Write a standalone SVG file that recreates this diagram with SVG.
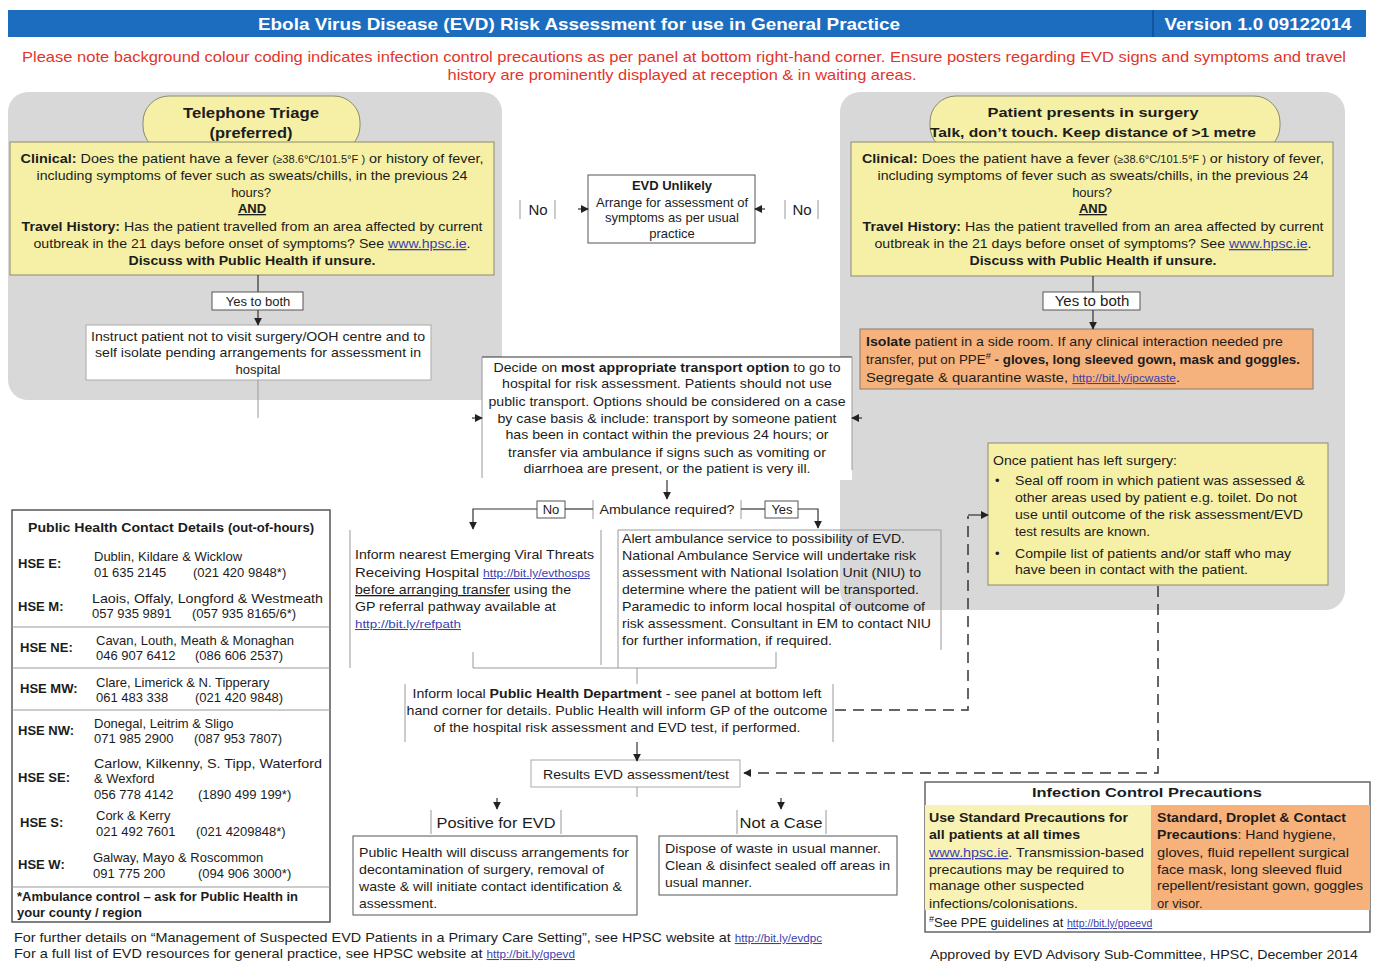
<svg xmlns="http://www.w3.org/2000/svg" width="1377" height="961" viewBox="0 0 1377 961">
<defs>
<style>
text{font-family:"Liberation Sans",Arial,Helvetica,sans-serif;font-size:13px;fill:#1c1c1c}
.b{font-weight:bold}
.c{text-anchor:middle}
.u{text-decoration:underline}
.lk{fill:#3a3fb0;text-decoration:underline}
.sl{font-size:10.5px}
.tmp{font-size:10px}
.red{fill:#e2352b;font-size:15px}
.hd{fill:#ffffff;font-size:17px;font-weight:bold}
.gray{fill:#d8d8d8}
.yel{fill:#f5f0a6;stroke:#8a8a70;stroke-width:1}
.org{fill:#f6b27c;stroke:#8a7a6a;stroke-width:1}
.wb{fill:#ffffff;stroke:#555;stroke-width:1}
.wl{fill:#ffffff;stroke:#aaa;stroke-width:1}
.ln{stroke:#333;stroke-width:1.2;fill:none}
.lg{stroke:#999;stroke-width:1;fill:none}
.ds{stroke:#333;stroke-width:1.5;stroke-dasharray:11 7;fill:none}
.big{font-size:15px}
</style>
<marker id="ah" viewBox="0 0 10 10" refX="9" refY="5" markerWidth="8" markerHeight="8" markerUnits="userSpaceOnUse" orient="auto"><path d="M0,0 L10,5 L0,10 z" fill="#222"/></marker>
</defs>
<rect x="0" y="0" width="1377" height="961" fill="#ffffff"/>

<g id="header">
<rect x="8" y="10" width="1358" height="27" fill="#1c6dc0"/>
<line x1="1153" y1="10" x2="1153" y2="37" stroke="#0d4f94" stroke-width="1.5"/>
<text class="hd c" x="579" y="30" textLength="642" lengthAdjust="spacingAndGlyphs">Ebola Virus Disease (EVD) Risk Assessment for use in General Practice</text>
<text class="hd c" x="1258" y="30" textLength="187" lengthAdjust="spacingAndGlyphs">Version 1.0 09122014</text>
<text class="red c" x="684" y="62" textLength="1324" lengthAdjust="spacingAndGlyphs">Please note background colour coding indicates infection control precautions as per panel at bottom right-hand corner. Ensure posters regarding EVD signs and symptoms and travel</text>
<text class="red c" x="682" y="80" textLength="469" lengthAdjust="spacingAndGlyphs">history are prominently displayed at reception &amp; in waiting areas.</text>
</g>

<g id="panels">
<rect class="gray" x="8" y="92" width="494" height="308" rx="20"/>
<rect class="gray" x="840" y="92" width="505" height="518" rx="20"/>
</g>

<g id="triage-pill">
<rect class="yel" x="143" y="96" width="217" height="56" rx="26"/>
<text class="b c big" x="251" y="118" font-size="16" textLength="136" lengthAdjust="spacingAndGlyphs">Telephone Triage</text>
<text class="b c big" x="251" y="138" font-size="16" textLength="83" lengthAdjust="spacingAndGlyphs">(preferred)</text>
</g>
<g id="surgery-pill">
<rect class="yel" x="930" y="96" width="350" height="56" rx="26"/>
<text class="b c" x="1093" y="117" font-size="16" textLength="211" lengthAdjust="spacingAndGlyphs">Patient presents in surgery</text>
<text class="b c" x="1093" y="137" font-size="16" textLength="326" lengthAdjust="spacingAndGlyphs">Talk, don’t touch. Keep distance of &gt;1 metre</text>
</g>

<g id="triage-questions">
<rect class="yel" x="10" y="142" width="484" height="133"/>
<text class="c" x="252" y="163" textLength="463" lengthAdjust="spacingAndGlyphs"><tspan class="b">Clinical:</tspan> Does the patient have a fever <tspan class="tmp">(≥38.6°C/101.5°F )</tspan> or history of fever,</text>
<text class="c" x="252" y="180" textLength="431" lengthAdjust="spacingAndGlyphs">including symptoms of fever such as sweats/chills, in the previous 24</text>
<text class="c" x="251" y="197">hours?</text>
<text class="c b u" x="252" y="213">AND</text>
<text class="c" x="252" y="231" textLength="461" lengthAdjust="spacingAndGlyphs"><tspan class="b">Travel History:</tspan> Has the patient travelled from an area affected by current</text>
<text class="c" x="252" y="248" textLength="437" lengthAdjust="spacingAndGlyphs">outbreak in the 21 days before onset of symptoms? See <tspan class="lk">www.hpsc.ie</tspan>.</text>
<text class="c b" x="252" y="265" textLength="247" lengthAdjust="spacingAndGlyphs">Discuss with Public Health if unsure.</text>
</g>

<g id="surgery-questions">
<rect class="yel" x="851" y="142" width="482" height="134"/>
<text class="c" x="1093" y="163" textLength="462" lengthAdjust="spacingAndGlyphs"><tspan class="b">Clinical:</tspan> Does the patient have a fever <tspan class="tmp">(≥38.6°C/101.5°F )</tspan> or history of fever,</text>
<text class="c" x="1093" y="180" textLength="431" lengthAdjust="spacingAndGlyphs">including symptoms of fever such as sweats/chills, in the previous 24</text>
<text class="c" x="1092" y="197">hours?</text>
<text class="c b u" x="1093" y="213">AND</text>
<text class="c" x="1093" y="231" textLength="461" lengthAdjust="spacingAndGlyphs"><tspan class="b">Travel History:</tspan> Has the patient travelled from an area affected by current</text>
<text class="c" x="1093" y="248" textLength="437" lengthAdjust="spacingAndGlyphs">outbreak in the 21 days before onset of symptoms? See <tspan class="lk">www.hpsc.ie</tspan>.</text>
<text class="c b" x="1093" y="265" textLength="247" lengthAdjust="spacingAndGlyphs">Discuss with Public Health if unsure.</text>
</g>

<g id="evd-unlikely">
<rect class="wb" x="588" y="175" width="167" height="68"/>
<text class="c b" x="672" y="190" font-size="12.5">EVD Unlikely</text>
<text class="c" x="672" y="207" font-size="11.5" textLength="152" lengthAdjust="spacingAndGlyphs">Arrange for assessment of</text>
<text class="c" x="672" y="222" font-size="11.5" textLength="134" lengthAdjust="spacingAndGlyphs">symptoms as per usual</text>
<text class="c" x="672" y="238" font-size="11.5">practice</text>
</g>

<g id="instruct">
<rect class="wl" x="86" y="325" width="345" height="55"/>
<text class="c" x="258" y="341" textLength="334" lengthAdjust="spacingAndGlyphs">Instruct patient not to visit surgery/OOH centre and to</text>
<text class="c" x="258" y="357" textLength="326" lengthAdjust="spacingAndGlyphs">self isolate pending arrangements for assessment in</text>
<text class="c" x="258" y="374">hospital</text>
</g>

<g id="isolate">
<rect class="org" x="860" y="329" width="453" height="60"/>
<text x="866" y="346" textLength="417" lengthAdjust="spacingAndGlyphs"><tspan class="b">Isolate</tspan> patient in a side room. If any clinical interaction needed pre</text>
<text x="866" y="364" textLength="434" lengthAdjust="spacingAndGlyphs">transfer, put on PPE<tspan font-size="9" dy="-5">#</tspan><tspan dy="5" class="b"> - gloves, long sleeved gown, mask and goggles.</tspan></text>
<text x="866" y="382" textLength="314" lengthAdjust="spacingAndGlyphs">Segregate &amp; quarantine waste, <tspan class="lk sl">http://bit.ly/ipcwaste</tspan>.</text>
</g>

<g id="transport">
<rect x="482" y="357" width="370" height="123" fill="#ffffff"/>
<line class="ln" x1="482" y1="357" x2="852" y2="357"/>
<line class="lg" x1="482" y1="357" x2="482" y2="478"/>
<line class="lg" x1="852" y1="357" x2="852" y2="470"/>
<text class="c" x="667" y="372" textLength="347" lengthAdjust="spacingAndGlyphs">Decide on <tspan class="b">most appropriate transport option</tspan> to go to</text>
<text class="c" x="667" y="388" textLength="330" lengthAdjust="spacingAndGlyphs">hospital for risk assessment. Patients should not use</text>
<text class="c" x="667" y="406" textLength="357" lengthAdjust="spacingAndGlyphs">public transport. Options should be considered on a case</text>
<text class="c" x="667" y="423" textLength="339" lengthAdjust="spacingAndGlyphs">by case basis &amp; include: transport by someone patient</text>
<text class="c" x="667" y="439" textLength="323" lengthAdjust="spacingAndGlyphs">has been in contact within the previous 24 hours; or</text>
<text class="c" x="667" y="457" textLength="318" lengthAdjust="spacingAndGlyphs">transfer via ambulance if signs such as vomiting or</text>
<text class="c" x="667" y="473" textLength="287" lengthAdjust="spacingAndGlyphs">diarrhoea are present, or the patient is very ill.</text>
</g>

<g id="once-left">
<rect class="yel" x="988" y="443" width="340" height="142"/>
<text x="993" y="465" textLength="184" lengthAdjust="spacingAndGlyphs">Once patient has left surgery:</text>
<text x="995" y="485">•</text>
<text x="1015" y="485" textLength="290" lengthAdjust="spacingAndGlyphs">Seal off room in which patient was assessed &amp;</text>
<text x="1015" y="502" textLength="282" lengthAdjust="spacingAndGlyphs">other areas used by patient e.g. toilet. Do not</text>
<text x="1015" y="519" textLength="288" lengthAdjust="spacingAndGlyphs">use until outcome of the risk assessment/EVD</text>
<text x="1015" y="536" textLength="135" lengthAdjust="spacingAndGlyphs">test results are known.</text>
<text x="995" y="558">•</text>
<text x="1015" y="558" textLength="276" lengthAdjust="spacingAndGlyphs">Compile list of patients and/or staff who may</text>
<text x="1015" y="574" textLength="233" lengthAdjust="spacingAndGlyphs">have been in contact with the patient.</text>
</g>

<g id="ambulance">
<text class="c" x="667" y="514" textLength="135" lengthAdjust="spacingAndGlyphs">Ambulance required?</text>
</g>

<g id="inform-nearest">
<text x="355" y="559" textLength="239" lengthAdjust="spacingAndGlyphs">Inform nearest Emerging Viral Threats</text>
<text x="355" y="577" textLength="235" lengthAdjust="spacingAndGlyphs">Receiving Hospital <tspan class="lk sl">http://bit.ly/evthosps</tspan></text>
<text x="355" y="594" textLength="216" lengthAdjust="spacingAndGlyphs"><tspan class="u">before arranging transfer</tspan> using the</text>
<text x="355" y="611" textLength="201" lengthAdjust="spacingAndGlyphs">GP referral pathway available at</text>
<text x="355" y="628" class="lk sl" textLength="106" lengthAdjust="spacingAndGlyphs">http://bit.ly/refpath</text>
</g>

<g id="alert">
<text x="622" y="543" textLength="283" lengthAdjust="spacingAndGlyphs">Alert ambulance service to possibility of EVD.</text>
<text x="622" y="560" textLength="294" lengthAdjust="spacingAndGlyphs">National Ambulance Service will undertake risk</text>
<text x="622" y="577" textLength="299" lengthAdjust="spacingAndGlyphs">assessment with National Isolation Unit (NIU) to</text>
<text x="622" y="594" textLength="297" lengthAdjust="spacingAndGlyphs">determine where the patient will be transported.</text>
<text x="622" y="611" textLength="303" lengthAdjust="spacingAndGlyphs">Paramedic to inform local hospital of outcome of</text>
<text x="622" y="628" textLength="309" lengthAdjust="spacingAndGlyphs">risk assessment. Consultant in EM to contact NIU</text>
<text x="622" y="645" textLength="210" lengthAdjust="spacingAndGlyphs">for further information, if required.</text>
</g>

<g id="inform-local">
<text class="c" x="617" y="698" textLength="409" lengthAdjust="spacingAndGlyphs">Inform local <tspan class="b">Public Health Department</tspan> - see panel at bottom left</text>
<text class="c" x="617" y="715" textLength="421" lengthAdjust="spacingAndGlyphs">hand corner for details. Public Health will inform GP of the outcome</text>
<text class="c" x="617" y="732" textLength="367" lengthAdjust="spacingAndGlyphs">of the hospital risk assessment and EVD test, if performed.</text>
</g>

<g id="results">
<rect class="wl" x="531" y="760" width="209" height="27"/>
<text class="c" x="636" y="779" textLength="186" lengthAdjust="spacingAndGlyphs">Results EVD assessment/test</text>
</g>

<g id="positive">
<text class="c big" x="496" y="828" textLength="119" lengthAdjust="spacingAndGlyphs">Positive for EVD</text>
<rect class="wb" x="353" y="836" width="284" height="79"/>
<text x="359" y="857" textLength="270" lengthAdjust="spacingAndGlyphs">Public Health will discuss arrangements for</text>
<text x="359" y="874" textLength="245" lengthAdjust="spacingAndGlyphs">decontamination of surgery, removal of</text>
<text x="359" y="891" textLength="263" lengthAdjust="spacingAndGlyphs">waste &amp; will initiate contact identification &amp;</text>
<text x="359" y="908" textLength="78" lengthAdjust="spacingAndGlyphs">assessment.</text>
</g>

<g id="not-a-case">
<text class="c big" x="781" y="828" textLength="83" lengthAdjust="spacingAndGlyphs">Not a Case</text>
<rect class="wb" x="659" y="836" width="238" height="59"/>
<text x="665" y="853" textLength="216" lengthAdjust="spacingAndGlyphs">Dispose of waste in usual manner.</text>
<text x="665" y="870" textLength="225" lengthAdjust="spacingAndGlyphs">Clean &amp; disinfect sealed off areas in</text>
<text x="665" y="887" textLength="87" lengthAdjust="spacingAndGlyphs">usual manner.</text>
</g>

<g id="contacts">
<rect x="12" y="510" width="318" height="412" fill="#ffffff" stroke="#555" stroke-width="1.5"/>
<line class="lg" x1="12" y1="627" x2="330" y2="627" stroke="#666" stroke-width="1.5"/>
<line class="lg" x1="12" y1="668" x2="330" y2="668" stroke="#666" stroke-width="1.5"/>
<line class="lg" x1="12" y1="710" x2="330" y2="710" stroke="#666" stroke-width="1.5"/>
<line class="lg" x1="12" y1="887" x2="330" y2="887" stroke="#666" stroke-width="1.5"/>
<text class="b" x="28" y="532" textLength="286" lengthAdjust="spacingAndGlyphs">Public Health Contact Details <tspan font-size="12">(out-of-hours)</tspan></text>
<text class="b" x="18" y="568">HSE E:</text>
<text x="94" y="561">Dublin, Kildare &amp; Wicklow</text>
<text x="94" y="577">01 635 2145</text><text x="193" y="577">(021 420 9848*)</text>
<text class="b" x="18" y="611">HSE M:</text>
<text x="92" y="603" textLength="231" lengthAdjust="spacingAndGlyphs">Laois, Offaly, Longford &amp; Westmeath</text>
<text x="92" y="618">057 935 9891</text><text x="192" y="618">(057 935 8165/6*)</text>
<text class="b" x="20" y="652">HSE NE:</text>
<text x="96" y="645">Cavan, Louth, Meath &amp; Monaghan</text>
<text x="96" y="660">046 907 6412</text><text x="195" y="660">(086 606 2537)</text>
<text class="b" x="20" y="693">HSE MW:</text>
<text x="96" y="687">Clare, Limerick &amp; N. Tipperary</text>
<text x="96" y="702">061 483 338</text><text x="195" y="702">(021 420 9848)</text>
<text class="b" x="18" y="735">HSE NW:</text>
<text x="94" y="728">Donegal, Leitrim &amp; Sligo</text>
<text x="94" y="743">071 985 2900</text><text x="194" y="743">(087 953 7807)</text>
<text class="b" x="18" y="782">HSE SE:</text>
<text x="94" y="768" textLength="228" lengthAdjust="spacingAndGlyphs">Carlow, Kilkenny, S. Tipp, Waterford</text>
<text x="94" y="783">&amp; Wexford</text>
<text x="94" y="799">056 778 4142</text><text x="198" y="799">(1890 499 199*)</text>
<text class="b" x="20" y="827">HSE S:</text>
<text x="96" y="820">Cork &amp; Kerry</text>
<text x="96" y="836">021 492 7601</text><text x="196" y="836">(021 4209848*)</text>
<text class="b" x="18" y="869">HSE W:</text>
<text x="93" y="862">Galway, Mayo &amp; Roscommon</text>
<text x="93" y="878">091 775 200</text><text x="198" y="878">(094 906 3000*)</text>
<text class="b" x="17" y="901" textLength="281" lengthAdjust="spacingAndGlyphs">*Ambulance control – ask for Public Health in</text>
<text class="b" x="17" y="917">your county / region</text>
</g>

<g id="infection-control">
<rect x="925" y="782" width="445" height="150" fill="#ffffff" stroke="#666" stroke-width="1.5"/>
<rect x="925" y="805" width="226" height="105" fill="#f8f3b4"/>
<rect x="1151" y="805" width="219" height="105" fill="#f6b27a"/>
<text class="b c" x="1147" y="797" font-size="16" textLength="230" lengthAdjust="spacingAndGlyphs">Infection Control Precautions</text>
<text class="b" x="929" y="822" textLength="199" lengthAdjust="spacingAndGlyphs">Use Standard Precautions for</text>
<text class="b" x="929" y="839" textLength="151" lengthAdjust="spacingAndGlyphs">all patients at all times</text>
<text x="929" y="857" textLength="215" lengthAdjust="spacingAndGlyphs"><tspan class="lk">www.hpsc.ie</tspan>. Transmission-based</text>
<text x="929" y="874" textLength="195" lengthAdjust="spacingAndGlyphs">precautions may be required to</text>
<text x="929" y="890" textLength="155" lengthAdjust="spacingAndGlyphs">manage other suspected</text>
<text x="929" y="908" textLength="149" lengthAdjust="spacingAndGlyphs">infections/colonisations.</text>
<text class="b" x="1157" y="822" textLength="189" lengthAdjust="spacingAndGlyphs">Standard, Droplet &amp; Contact</text>
<text x="1157" y="839" textLength="179" lengthAdjust="spacingAndGlyphs"><tspan class="b">Precautions</tspan>: Hand hygiene,</text>
<text x="1157" y="857" textLength="192" lengthAdjust="spacingAndGlyphs">gloves, fluid repellent surgical</text>
<text x="1157" y="874" textLength="185" lengthAdjust="spacingAndGlyphs">face mask, long sleeved fluid</text>
<text x="1157" y="890" textLength="206" lengthAdjust="spacingAndGlyphs">repellent/resistant gown, goggles</text>
<text x="1157" y="908">or visor.</text>
<text x="929" y="927"><tspan font-size="9" dy="-5">#</tspan><tspan dy="5">See PPE guidelines at </tspan><tspan class="lk sl">http://bit.ly/ppeevd</tspan></text>
</g>

<g id="footer">
<text x="14" y="942" textLength="808" lengthAdjust="spacingAndGlyphs">For further details on “Management of Suspected EVD Patients in a Primary Care Setting”, see HPSC website at <tspan class="lk sl">http://bit.ly/evdpc</tspan></text>
<text x="14" y="958" textLength="561" lengthAdjust="spacingAndGlyphs">For a full list of EVD resources for general practice, see HPSC website at <tspan class="lk sl">http://bit.ly/gpevd</tspan></text>
<text x="930" y="959" textLength="428" lengthAdjust="spacingAndGlyphs">Approved by EVD Advisory Sub-Committee, HPSC, December 2014</text>
</g>

<g id="connectors">
<line class="ln" x1="258" y1="275" x2="258" y2="293"/>
<rect x="212" y="292" width="91" height="18" fill="#fff" stroke="#555"/>
<text class="c" x="258" y="306" font-size="14">Yes to both</text>
<line class="ln" x1="258" y1="310" x2="258" y2="325" marker-end="url(#ah)"/>
<line class="ln" x1="1093" y1="276" x2="1093" y2="292"/>
<rect x="1043" y="292" width="97" height="18" fill="#fff" stroke="#555"/>
<text class="c big" x="1092" y="306">Yes to both</text>
<line class="ln" x1="1093" y1="310" x2="1093" y2="329" marker-end="url(#ah)"/>
<line class="lg" x1="258" y1="380" x2="258" y2="418" stroke="#777"/>
<line class="ln" x1="472" y1="418" x2="482" y2="418" marker-end="url(#ah)"/>
<line class="ln" x1="862" y1="418" x2="852" y2="418" marker-end="url(#ah)"/>
<line class="lg" x1="520" y1="200" x2="520" y2="219" stroke="#666"/>
<line class="lg" x1="555" y1="200" x2="555" y2="219" stroke="#666"/>
<text class="c big" x="538" y="215">No</text>
<line class="ln" x1="578" y1="209" x2="588" y2="209" marker-end="url(#ah)"/>
<line class="lg" x1="785" y1="200" x2="785" y2="219" stroke="#666"/>
<line class="lg" x1="818" y1="200" x2="818" y2="219" stroke="#666"/>
<text class="c big" x="802" y="215">No</text>
<line class="ln" x1="765" y1="209" x2="755" y2="209" marker-end="url(#ah)"/>
<line class="ln" x1="667" y1="480" x2="667" y2="499" marker-end="url(#ah)"/>
<line class="lg" x1="593" y1="500" x2="593" y2="519" stroke="#555"/>
<line class="lg" x1="741" y1="500" x2="741" y2="519" stroke="#555"/>
<polyline class="ln" points="537,509 473,509 473,529" marker-end="url(#ah)"/>
<rect x="537" y="501" width="28" height="17" fill="#fff" stroke="#555"/>
<text class="c" x="551" y="514">No</text>
<line class="ln" x1="565" y1="509" x2="593" y2="509"/>
<line class="ln" x1="741" y1="509" x2="765" y2="509"/>
<rect x="765" y="501" width="33" height="17" fill="#fff" stroke="#555"/>
<text class="c" x="782" y="514">Yes</text>
<polyline class="ln" points="798,509 818,509 818,528" marker-end="url(#ah)"/>
<line class="lg" x1="350" y1="530" x2="350" y2="668"/>
<line class="lg" x1="601" y1="530" x2="601" y2="665"/>
<polyline class="lg" points="618,668 618,530 941,530 941,650"/>
<polyline class="lg" points="473,652 473,668 776,668 776,652" stroke="#777"/>
<line class="lg" x1="637" y1="668" x2="637" y2="684" stroke="#777"/>
<line class="lg" x1="405" y1="684" x2="405" y2="742"/>
<line class="lg" x1="833" y1="684" x2="833" y2="742"/>
<line class="ln" x1="637" y1="742" x2="637" y2="761" marker-end="url(#ah)"/>
<line class="lg" x1="637" y1="787" x2="637" y2="797" stroke="#777"/>
<line class="ln" x1="497" y1="798" x2="497" y2="809" marker-end="url(#ah)"/>
<line class="ln" x1="781" y1="798" x2="781" y2="809" marker-end="url(#ah)"/>
<line class="lg" x1="431" y1="810" x2="431" y2="834"/>
<line class="lg" x1="561" y1="810" x2="561" y2="834"/>
<line class="lg" x1="737" y1="810" x2="737" y2="834"/>
<line class="lg" x1="826" y1="810" x2="826" y2="834"/>
<polyline class="ds" points="835,710 968,710 968,516"/>
<line class="ln" x1="968" y1="515" x2="988" y2="515" marker-end="url(#ah)"/>
<polyline class="ds" points="1158,586 1158,773 744,773" marker-end="url(#ah)"/>
</g>
</svg>
